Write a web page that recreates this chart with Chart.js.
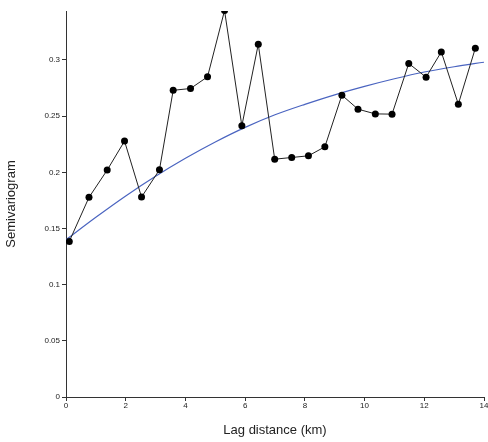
<!DOCTYPE html>
<html>
<head>
<meta charset="utf-8">
<script src="https://cdn.jsdelivr.net/npm/chart.js@4/dist/chart.umd.min.js"></script>
<style>
  html, body { margin: 0; padding: 0; background: #fff; }
  #wrap { width: 488px; height: 442px; }
</style>
</head>
<body>
<div id="wrap"><canvas id="semi"></canvas></div>
<script>
// Experimental semivariogram (lag km, value)
var lagKm = [0.11, 0.77, 1.38, 1.96, 2.53, 3.13, 3.59, 4.17, 4.74, 5.31, 5.89, 6.44, 6.99,
             7.56, 8.12, 8.67, 9.24, 9.78, 10.36, 10.92, 11.48, 12.06, 12.57, 13.14, 13.71];
var gamma = [0.1385, 0.1777, 0.202, 0.2278, 0.178, 0.2022, 0.273, 0.2746, 0.285, 0.344, 0.2414, 0.314, 0.2117,
             0.2132, 0.2147, 0.2227, 0.2687, 0.2562, 0.252, 0.2518, 0.2969, 0.2847, 0.3072, 0.2607, 0.3105];

// Fitted model curve
var modelLag = [0, 1, 2, 3, 4, 5, 6, 7, 8, 9, 10, 11, 12, 13, 14];
var modelGamma = [0.14, 0.16, 0.179, 0.1965, 0.2125, 0.227, 0.24, 0.2512, 0.2605, 0.269, 0.2765, 0.2833, 0.2893, 0.294, 0.298];

var xTicks = [0, 2, 4, 6, 8, 10, 12, 14];
var yTicks = [0, 0.05, 0.1, 0.15, 0.2, 0.25, 0.3];

function pairs(xs, ys) {
    return xs.map(function (x, i) { return {x: x, y: ys[i]}; });
}

var tickFont = {family: "Arial, 'Liberation Sans', sans-serif", size: 8};
var titleFont = {family: "Arial, 'Liberation Sans', sans-serif", size: 13};

new Chart(document.getElementById('semi').getContext('2d'), {
    type: 'scatter',
    data: {
        datasets: [{
                label: 'Experimental',
                data: pairs(lagKm, gamma),
                showLine: true,
                borderColor: '#222',
                borderWidth: 1,
                backgroundColor: '#000',
                pointRadius: 3.5,
                pointBorderWidth: 0,
                order: 1
            },
            {
                label: 'Model',
                data: pairs(modelLag, modelGamma),
                showLine: true,
                borderColor: '#4a64c0',
                borderWidth: 1.2,
                pointRadius: 0,
                cubicInterpolationMode: 'monotone',
                order: 2
            }
        ]
    },
    options: {
        responsive: true,
        maintainAspectRatio: false,
        animation: false,
        layout: {padding: {top: 11, right: 3, left: 0, bottom: 0}},
        plugins: {legend: {display: false}, tooltip: {enabled: false}},
        scales: {
            x: {
                type: 'linear',
                min: 0,
                max: 14,
                afterBuildTicks: function (s) { s.ticks = xTicks.map(function (v) { return {value: v}; }); },
                afterFit: function (s) { s.height = 45; s.paddingRight = 0; s.paddingLeft = 0; },
                border: {display: true, color: '#333', width: 1},
                grid: {display: true, drawOnChartArea: false, drawTicks: true, tickLength: 4, color: '#333'},
                ticks: {font: tickFont, color: '#222', padding: 0, maxRotation: 0, autoSkip: false},
                title: {display: true, text: 'Lag distance (km)', font: titleFont, color: '#222', padding: {top: 0, bottom: 4}}
            },
            y: {
                min: 0,
                max: 0.3436,
                afterBuildTicks: function (s) { s.ticks = yTicks.map(function (v) { return {value: v}; }); },
                afterFit: function (s) { s.width = 66; },
                border: {display: true, color: '#333', width: 1},
                grid: {display: true, drawOnChartArea: false, drawTicks: true, tickLength: 4, color: '#333'},
                ticks: {font: tickFont, color: '#222', padding: 2,
                    callback: function (v) { return String(v); }},
                title: {display: true, text: 'Semivariogram', font: titleFont, color: '#222', padding: {top: 4, bottom: 0}}
            }
        }
    }
});
</script>
</body>
</html>
